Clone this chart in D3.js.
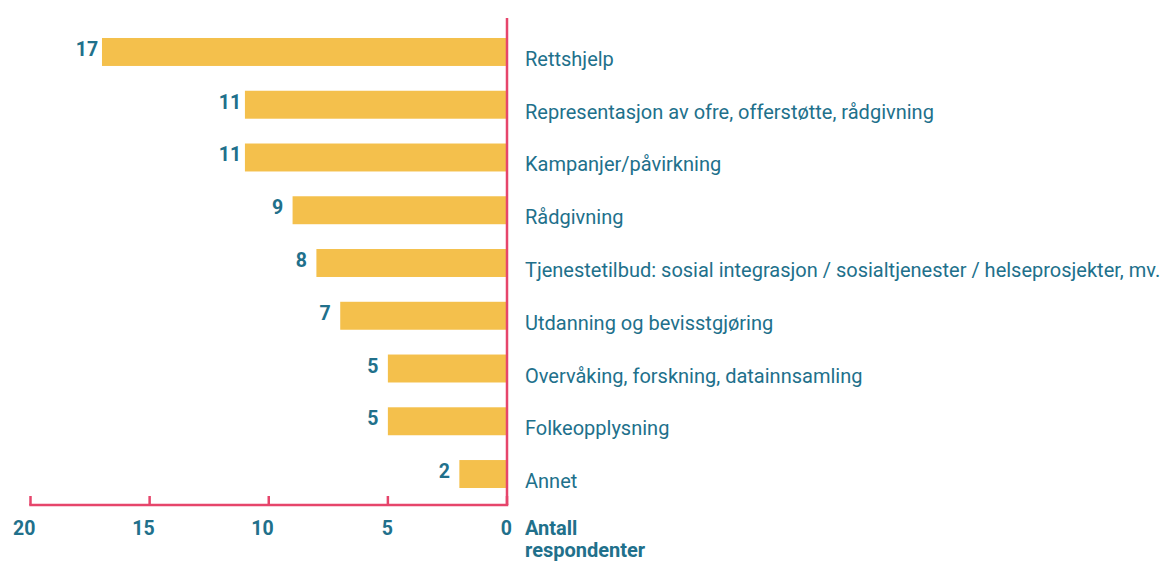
<!DOCTYPE html>
<html>
<head>
<meta charset="utf-8">
<script src="https://cdn.jsdelivr.net/npm/d3@7"></script>
<style>
  body { margin: 0; background: #fff; }
  svg { font-family: Roboto, "Noto Sans", sans-serif; }
</style>
</head>
<body>
<svg width="1166" height="563"></svg>
<script>
// ---> Data
const categories = [
    "Rettshjelp",
    "Representasjon av ofre, offerstøtte, rådgivning",
    "Kampanjer/påvirkning",
    "Rådgivning",
    "Tjenestetilbud: sosial integrasjon / sosialtjenester / helseprosjekter, mv.",
    "Utdanning og bevisstgjøring",
    "Overvåking, forskning, datainnsamling",
    "Folkeopplysning",
    "Annet"
];
const values = [17, 11, 11, 9, 8, 7, 5, 5, 2];
const tickValues = [0, 5, 10, 15, 20];
const axisTitle = ["Antall", "respondenter"];

const teal = "#21708b";
const barColor = "#f4c04c";
const axisColor = "#e6456b";

const svg = d3.select("svg");

// x runs right to left, zero at the vertical axis
const x = d3.scaleLinear().domain([0, 20]).range([507, 30.5]);
const y = d3.scaleBand()
    .domain(categories)
    .range([19, 507])
    .paddingInner(0.47)
    .paddingOuter(0.36);

const axisY = 505;

// bars
svg.append("g")
    .selectAll("rect")
    .data(values)
    .enter()
    .append("rect")
    .attr("x", (d) => x(d))
    .attr("y", (d, i) => y(categories[i]))
    .attr("width", (d) => x(0) - x(d))
    .attr("height", y.bandwidth())
    .attr("fill", barColor);

// value labels
svg.append("g")
    .selectAll("text")
    .data(values)
    .enter()
    .append("text")
    .attr("x", (d) => x(d) - 15)
    .attr("y", (d, i) => y(categories[i]) + y.bandwidth() / 2 + 4)
    .attr("text-anchor", "middle")
    .attr("font-size", 19.5)
    .attr("font-weight", "bold")
    .attr("fill", teal)
    .text((d) => d);

// category labels
svg.append("g")
    .selectAll("text")
    .data(categories)
    .enter()
    .append("text")
    .attr("x", 525)
    .attr("y", (d) => y(d) + y.bandwidth() / 2 + 14)
    .attr("font-size", 20)
    .attr("fill", teal)
    .text((d) => d);

// axis lines
svg.append("line")
    .attr("x1", x(0)).attr("x2", x(0))
    .attr("y1", 18).attr("y2", axisY)
    .attr("stroke", axisColor)
    .attr("stroke-width", 2.5);

svg.append("line")
    .attr("x1", x(20)).attr("x2", x(0))
    .attr("y1", axisY).attr("y2", axisY)
    .attr("stroke", axisColor)
    .attr("stroke-width", 2.5)
    .attr("stroke-linecap", "square");

// ticks
svg.append("g")
    .selectAll("line")
    .data(tickValues)
    .enter()
    .append("line")
    .attr("x1", (d) => x(d)).attr("x2", (d) => x(d))
    .attr("y1", axisY - 9).attr("y2", axisY)
    .attr("stroke", axisColor)
    .attr("stroke-width", 2.5);

svg.append("g")
    .selectAll("text")
    .data(tickValues)
    .enter()
    .append("text")
    .attr("x", (d) => x(d) + 5)
    .attr("y", 535)
    .attr("text-anchor", "end")
    .attr("font-size", 19.5)
    .attr("font-weight", "bold")
    .attr("fill", teal)
    .text((d) => d);

// axis title
svg.append("text")
    .attr("x", 525)
    .attr("y", 535)
    .attr("font-size", 20)
    .attr("font-weight", "bold")
    .attr("fill", teal)
    .selectAll("tspan")
    .data(axisTitle)
    .enter()
    .append("tspan")
    .attr("x", 525)
    .attr("dy", (d, i) => i === 0 ? 0 : 22)
    .text((d) => d);
</script>
</body>
</html>
